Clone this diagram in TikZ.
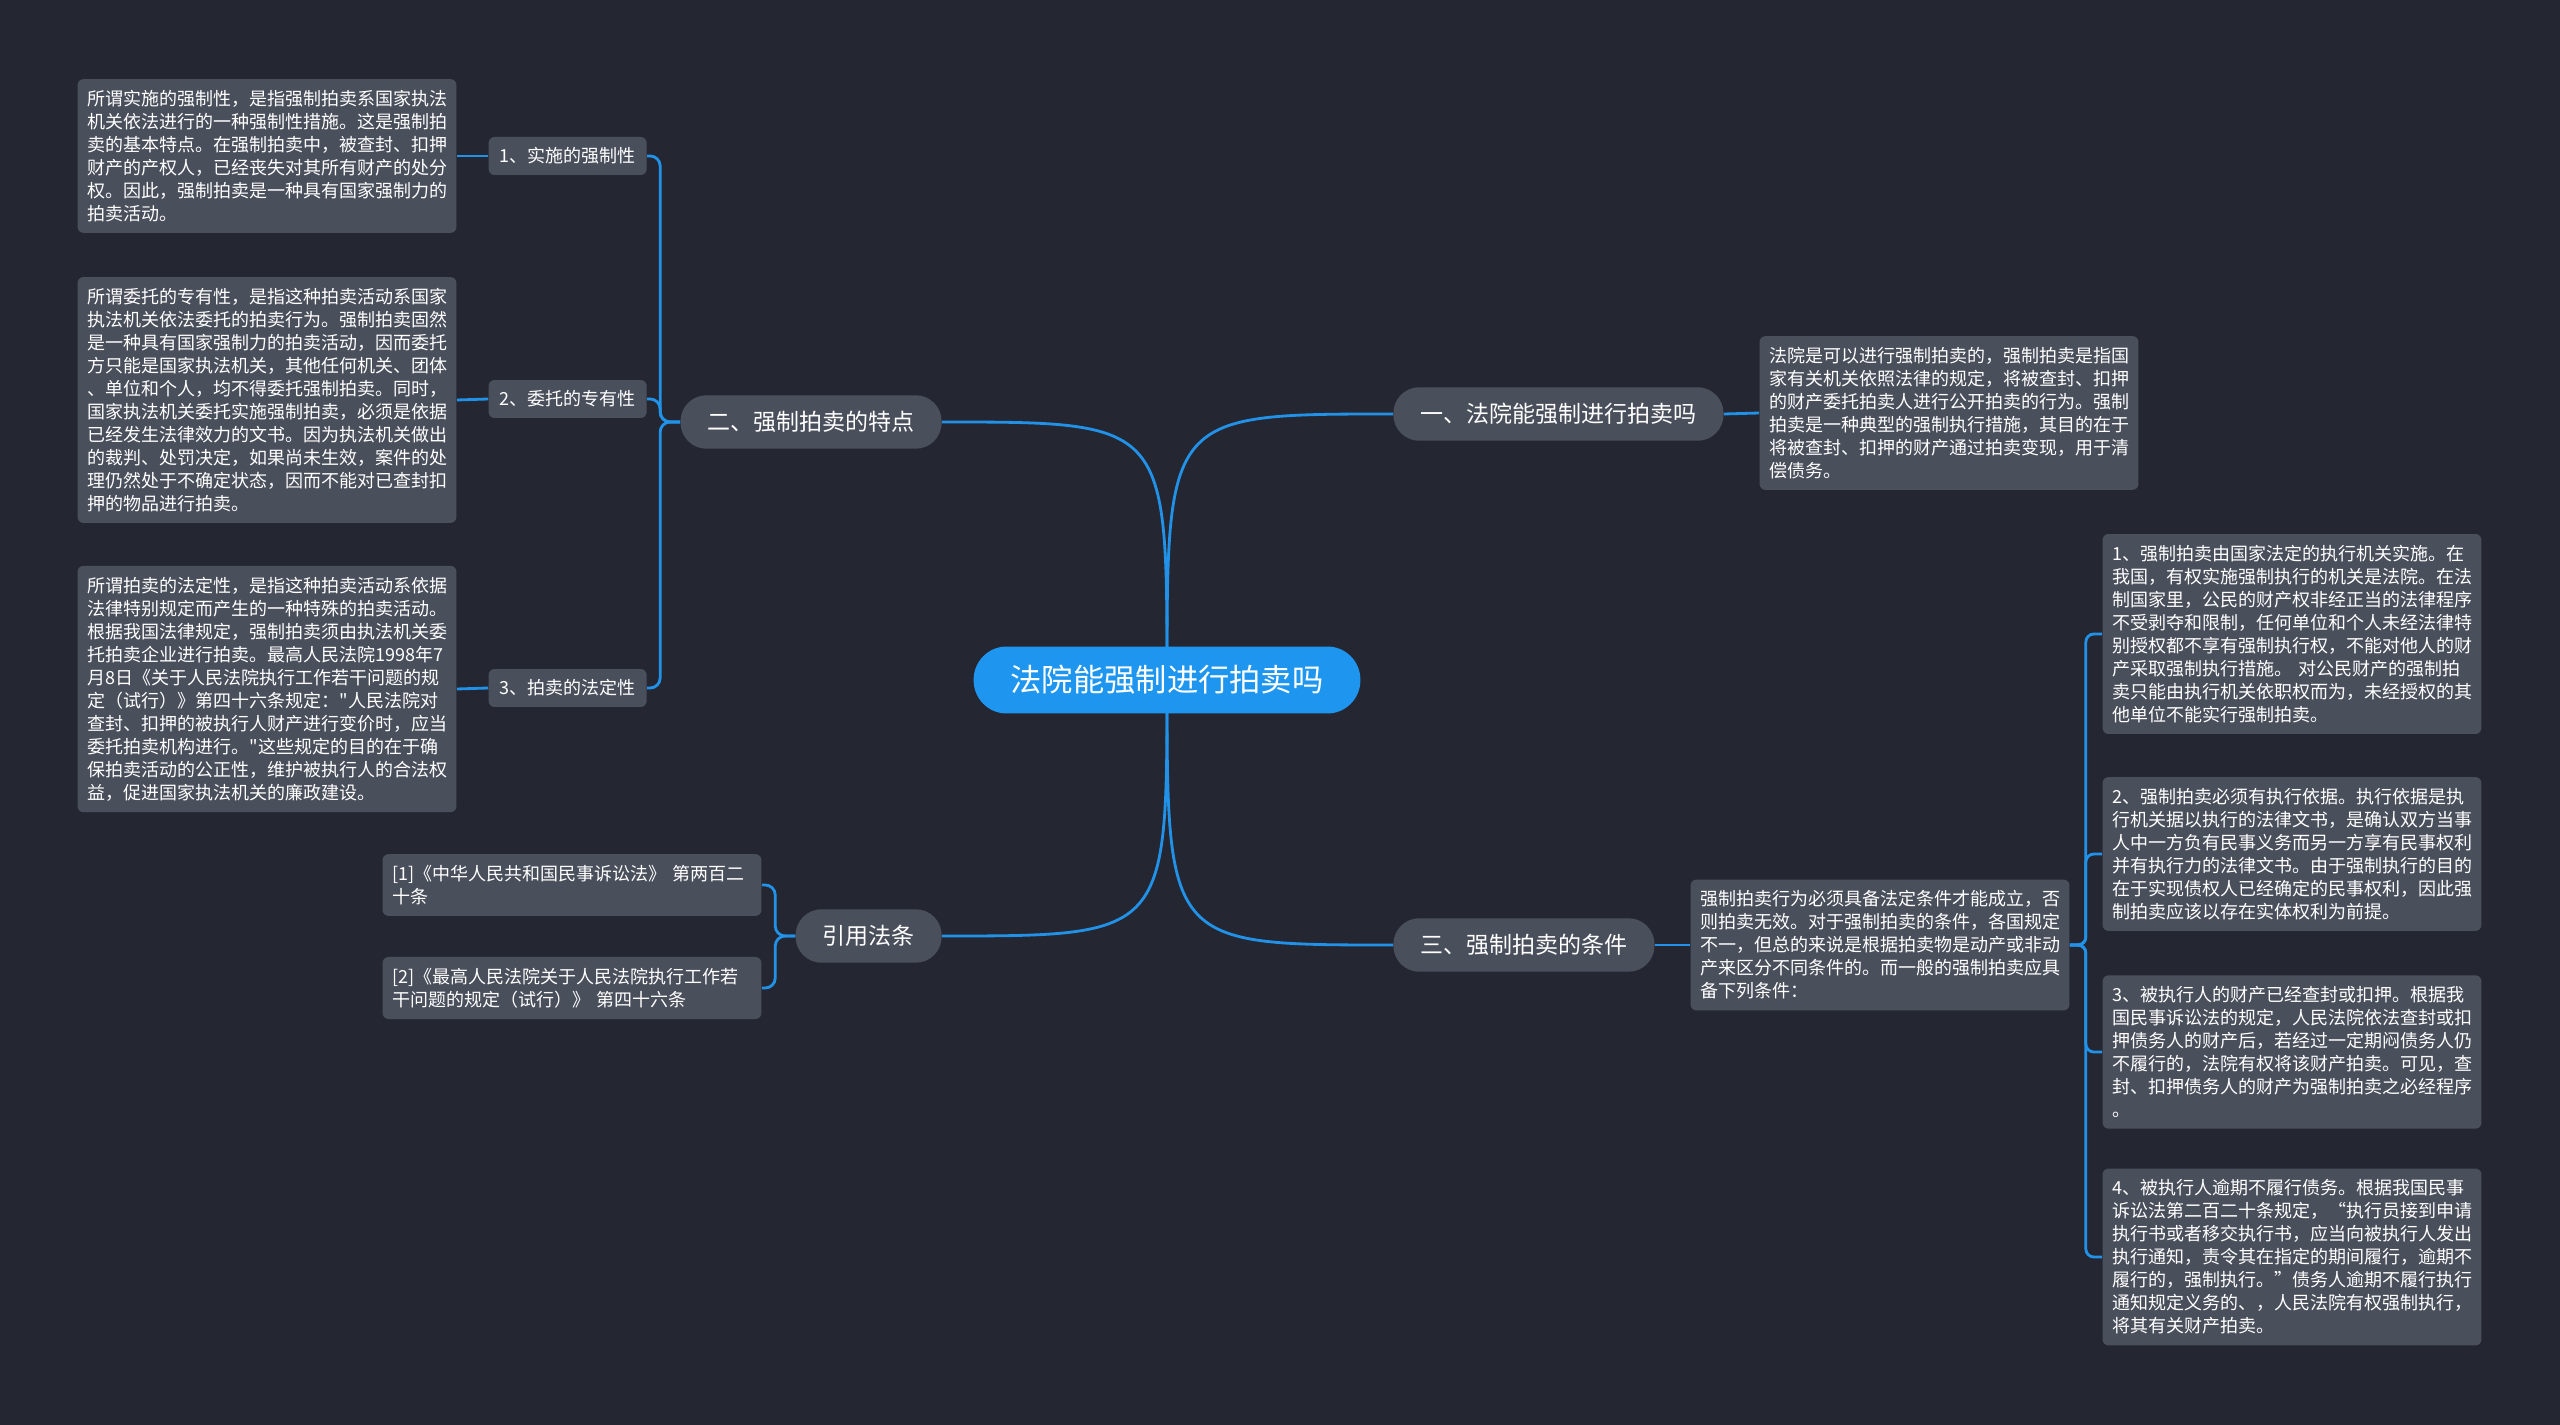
\documentclass[tikz,border=0pt]{standalone}
\usepackage{fontspec}
\newfontfamily\cjk{Noto Sans CJK SC}
\usetikzlibrary{calc}
\definecolor{bgnavy}{RGB}{36,39,50}
\definecolor{boxgray}{RGB}{74,79,92}
\definecolor{linkblue}{RGB}{33,146,232}
\definecolor{rootblue}{RGB}{30,150,240}
\pgfdeclarelayer{bg}
\pgfdeclarelayer{links}
\pgfsetlayers{bg,links,main}

\begin{document}
\begin{tikzpicture}[x=.02cm,y=-.02cm,line cap=round,line join=round,
  root/.style={fill=rootblue,text=white,rounded corners=.66cm,minimum height=1.34cm,
    inner xsep=.74cm,font=\cjk\fontsize{17.8}{21}\selectfont},
  topic/.style={fill=boxgray,text=white,rounded corners=.52cm,minimum height=1.07cm,
    inner xsep=.54cm,font=\cjk\fontsize{13.1}{16}\selectfont},
  subtopic/.style={fill=boxgray,text=white,rounded corners=.12cm,minimum height=.76cm,
    inner xsep=.22cm,font=\cjk\fontsize{10.25}{13.1}\selectfont},
  memo/.style={fill=boxgray,text=white,rounded corners=.12cm,inner xsep=.2cm,inner ysep=.22cm,
    text width=7.18cm,align=left,font=\cjk\fontsize{10.25}{13.1}\selectfont},
  link/.style={draw=linkblue,line width=1.6pt}]
  \begin{pgfonlayer}{bg}
    \fill[bgnavy] (0,0) rectangle (2560,1425);
  \end{pgfonlayer}
  \useasboundingbox (0,0) rectangle (2560,1425);

  % Centre and main branches.
  \node[root] (root) at (1167,680) {法院能强制进行拍卖吗};
  \node[topic,anchor=west] (one) at (1393,414) {一、法院能强制进行拍卖吗};
  \node[topic,anchor=east] (two) at (942,422) {二、强制拍卖的特点};
  \node[topic,anchor=west] (three) at (1393,945) {三、强制拍卖的条件};
  \node[topic,anchor=east] (cite) at (942,936) {引用法条};

  % Features, left side.
  \node[subtopic,anchor=east] (l1) at (647,156) {1、实施的强制性};
  \node[subtopic,anchor=east] (l2) at (647,399) {2、委托的专有性};
  \node[subtopic,anchor=east] (l3) at (647,688) {3、拍卖的法定性};
  \node[memo] (t1) at (267,156) {所谓实施的强制性，是指强制拍卖系国家执法\\
    机关依法进行的一种强制性措施。这是强制拍\\
    卖的基本特点。在强制拍卖中，被查封、扣押\\
    财产的产权人，已经丧失对其所有财产的处分\\
    权。因此，强制拍卖是一种具有国家强制力的\\
    拍卖活动。};
  \node[memo] (t2) at (267,400) {所谓委托的专有性，是指这种拍卖活动系国家\\
    执法机关依法委托的拍卖行为。强制拍卖固然\\
    是一种具有国家强制力的拍卖活动，因而委托\\
    方只能是国家执法机关，其他任何机关、团体\\
    、单位和个人，均不得委托强制拍卖。同时，\\
    国家执法机关委托实施强制拍卖，必须是依据\\
    已经发生法律效力的文书。因为执法机关做出\\
    的裁判、处罚决定，如果尚未生效，案件的处\\
    理仍然处于不确定状态，因而不能对已查封扣\\
    押的物品进行拍卖。};
  \node[memo] (t3) at (267,689) {所谓拍卖的法定性，是指这种拍卖活动系依据\\
    法律特别规定而产生的一种特殊的拍卖活动。\\
    根据我国法律规定，强制拍卖须由执法机关委\\
    托拍卖企业进行拍卖。最高人民法院1998年7\\
    月8日《关于人民法院执行工作若干问题的规\\
    定（试行）》第四十六条规定："人民法院对\\
    查封、扣押的被执行人财产进行变价时，应当\\
    委托拍卖机构进行。"这些规定的目的在于确\\
    保拍卖活动的公正性，维护被执行人的合法权\\
    益，促进国家执法机关的廉政建设。};

  % Cited articles.
  \node[memo] (b1) at (572,885) {[1]《中华人民共和国民事诉讼法》 第两百二\\
    十条};
  \node[memo] (b2) at (572,988) {[2]《最高人民法院关于人民法院执行工作若\\
    干问题的规定（试行）》 第四十六条};

  % Right side.
  \node[memo] (r0) at (1949,413) {法院是可以进行强制拍卖的，强制拍卖是指国\\
    家有关机关依照法律的规定，将被查封、扣押\\
    的财产委托拍卖人进行公开拍卖的行为。强制\\
    拍卖是一种典型的强制执行措施，其目的在于\\
    将被查封、扣押的财产通过拍卖变现，用于清\\
    偿债务。};
  \node[memo] (r3) at (1880,945) {强制拍卖行为必须具备法定条件才能成立，否\\
    则拍卖无效。对于强制拍卖的条件，各国规定\\
    不一，但总的来说是根据拍卖物是动产或非动\\
    产来区分不同条件的。而一般的强制拍卖应具\\
    备下列条件：};
  \node[memo] (c1) at (2292,634) {1、强制拍卖由国家法定的执行机关实施。在\\
    我国，有权实施强制执行的机关是法院。在法\\
    制国家里，公民的财产权非经正当的法律程序\\
    不受剥夺和限制，任何单位和个人未经法律特\\
    别授权都不享有强制执行权，不能对他人的财\\
    产采取强制执行措施。 对公民财产的强制拍\\
    卖只能由执行机关依职权而为，未经授权的其\\
    他单位不能实行强制拍卖。};
  \node[memo] (c2) at (2292,854) {2、强制拍卖必须有执行依据。执行依据是执\\
    行机关据以执行的法律文书，是确认双方当事\\
    人中一方负有民事义务而另一方享有民事权利\\
    并有执行力的法律文书。由于强制执行的目的\\
    在于实现债权人已经确定的民事权利，因此强\\
    制拍卖应该以存在实体权利为前提。};
  \node[memo] (c3) at (2292,1052) {3、被执行人的财产已经查封或扣押。根据我\\
    国民事诉讼法的规定，人民法院依法查封或扣\\
    押债务人的财产后，若经过一定期闷债务人仍\\
    不履行的，法院有权将该财产拍卖。可见，查\\
    封、扣押债务人的财产为强制拍卖之必经程序\\
    。};
  \node[memo] (c4) at (2292,1257) {4、被执行人逾期不履行债务。根据我国民事\\
    诉讼法第二百二十条规定，“执行员接到申请\\
    执行书或者移交执行书，应当向被执行人发出\\
    执行通知，责令其在指定的期间履行，逾期不\\
    履行的，强制执行。”债务人逾期不履行执行\\
    通知规定义务的、，人民法院有权强制执行，\\
    将其有关财产拍卖。};

  % Connectors.
  \begin{pgfonlayer}{links}
    \foreach \n/\a in {one/west,two/east,three/west,cite/east}
      \draw[link] (root.center) .. controls (root.center |- \n.\a) .. (\n.\a);
    \draw[link] (one.east) -- (r0.west);
    \draw[link] (three.east) -- (r3.west);
    \foreach \n in {1,2,3}
      \draw[link] (t\n.east) -- (l\n.west);
    \foreach \n in {l1,l2,l3}
      \draw[link,rounded corners=.2cm] (two.west) -- ++(-20,0) |- (\n.east);
    \foreach \n in {b1,b2}
      \draw[link,rounded corners=.2cm] (cite.west) -- ++(-20,0) |- (\n.east);
    \foreach \n in {c1,c2,c3,c4}
      \draw[link,rounded corners=.16cm] (r3.east) -- ++(16,0) |- (\n.west);
  \end{pgfonlayer}
\end{tikzpicture}
\end{document}
